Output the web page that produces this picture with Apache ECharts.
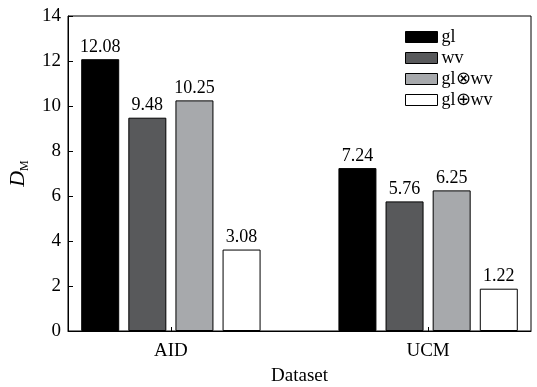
<!DOCTYPE html>
<html><head><meta charset="utf-8">
<script src="https://cdn.jsdelivr.net/npm/echarts@6/dist/echarts.min.js"></script>
<style>html,body{margin:0;padding:0;background:#fff}#c{width:537px;height:387px}</style>
</head><body><div id="c"></div>
<script>
var categories = ['AID', 'UCM'];
var seriesNames = ['gl', 'wv', 'gl\u2297wv', 'gl\u2295wv'];
var glValues = [12.08, 7.24];
var wvValues = [9.48, 5.76];
var glTimesWvValues = [10.25, 6.25];
var glPlusWvValues = [3.62, 1.88];
var glLabels = ['12.08', '7.24'];
var wvLabels = ['9.48', '5.76'];
var glTimesWvLabels = ['10.25', '6.25'];
var glPlusWvLabels = ['3.08', '1.22'];
var yTicks = [0, 2, 4, 6, 8, 10, 12, 14];

var FONT = 'Liberation Serif';
var colors = ['#000000', '#58595b', '#a7a9ac', '#ffffff'];
var values = [glValues, wvValues, glTimesWvValues, glPlusWvValues];
var labels = [glLabels, wvLabels, glTimesWvLabels, glPlusWvLabels];
var catPos = categories.map(function (c, i) { return i; });

var chart = echarts.init(document.getElementById('c'), null, {renderer: 'canvas'});
var series = seriesNames.map(function (name, i) {
  return {
    name: name,
    type: 'bar',
    data: values[i].map(function (v, j) { return [catPos[j], v]; }),
    barWidth: 38,
    barGap: '24%',
    itemStyle: {color: colors[i], borderColor: '#000', borderWidth: 1},
    label: {
      show: true, position: 'top', distance: 3,
      fontFamily: FONT, fontSize: 18, color: '#000',
      formatter: function (p) { return labels[i][p.dataIndex]; }
    }
  };
});

chart.setOption({
  animation: false,
  backgroundColor: '#fff',
  grid: {left: 68, right: 6, top: 16, bottom: 56, outerBoundsMode: 'none', containLabel: false,
         show: true, borderColor: '#000', borderWidth: 1},
  legend: {
    orient: 'vertical', left: 405, top: 28, padding: 0,
    itemWidth: 32, itemHeight: 11, itemGap: 3,
    icon: 'rect',
    textStyle: {fontFamily: FONT, fontSize: 18, color: '#000', padding: [0,0,0,-1]},
    data: seriesNames.map(function (n, i) {
      return {name: n, itemStyle: {color: colors[i], borderColor: '#000', borderWidth: 1}};
    })
  },
  xAxis: {
    type: 'value', min: -0.4, max: catPos[catPos.length - 1] + 0.4,
    name: 'Dataset', nameLocation: 'middle', nameGap: 36,
    nameTextStyle: {fontFamily: FONT, fontSize: 19, color: '#000'},
    splitLine: {show: false},
    axisLine: {show: true, onZero: false, lineStyle: {color: '#000', width: 1}},
    axisTick: {show: true, inside: true, length: 4, customValues: catPos, lineStyle: {color: '#000'}},
    axisLabel: {
      fontFamily: FONT, fontSize: 19, color: '#000', margin: 11, customValues: catPos,
      formatter: function (v) { return categories[Math.round(v)] || ''; }
    }
  },
  yAxis: {
    type: 'value', min: yTicks[0], max: yTicks[yTicks.length - 1], interval: 2,
    name: '{i|D}{s|M}', nameLocation: 'middle', nameGap: 29, nameRotate: 90,
    nameTextStyle: {
      rich: {
        i: {fontFamily: FONT, fontStyle: 'italic', fontSize: 22, color: '#000', lineHeight: 26, verticalAlign: 'middle'},
        s: {fontFamily: FONT, fontSize: 12, color: '#000', lineHeight: 12, verticalAlign: 'bottom'}
      }
    },
    axisLine: {show: true, onZero: false, lineStyle: {color: '#000', width: 1}},
    axisTick: {show: true, inside: true, length: 5, lineStyle: {color: '#000'}},
    splitLine: {show: false},
    axisLabel: {fontFamily: FONT, fontSize: 19, color: '#000', margin: 7}
  },
  series: series
});
</script>
</body></html>
